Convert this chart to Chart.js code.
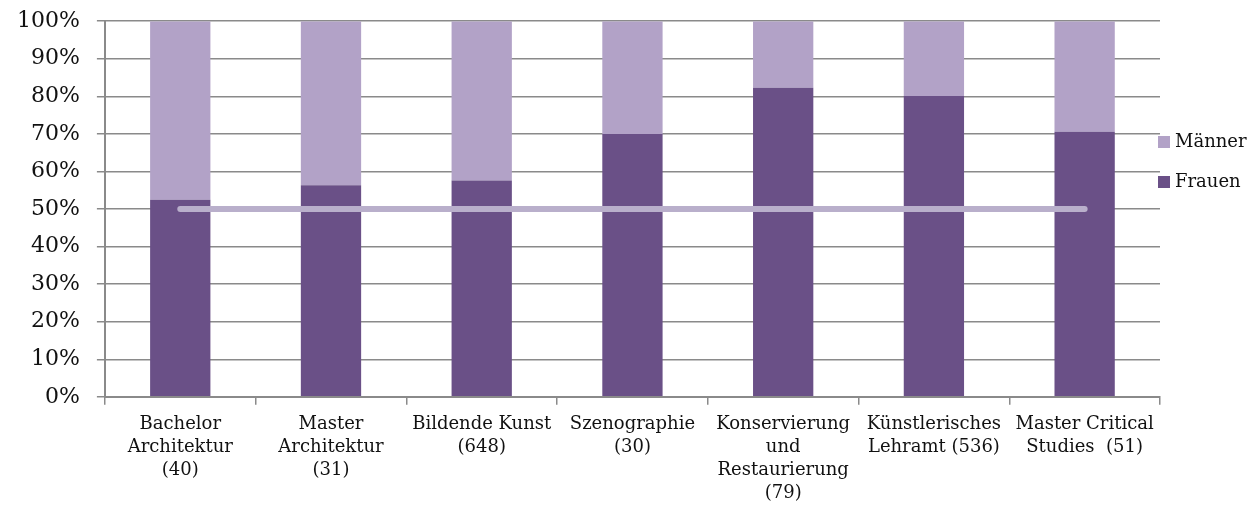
<!DOCTYPE html>
<html lang="de">
<head>
<meta charset="UTF-8">
<title>Frauen / Männer</title>
<script src="https://cdn.jsdelivr.net/npm/chart.js"></script>
<style>
    body { margin: 0; background: #fff; overflow: hidden; }
    .box { position: relative; width: 1260px; height: 513px; overflow: hidden; }
    .zeichnung { position: absolute; left: 0; top: -9px; width: 1260px; height: 522px; }
    .legende { position: absolute; left: 1158px; top: 130px; font-family: 'DejaVu Serif'; font-size: 18px; color: #111; }
    .legende div { height: 40px; display: flex; align-items: flex-start; }
    .legende span.q { display: inline-block; width: 12px; height: 12px; margin: 6px 5px 0 0; }
</style>
</head>
<body>
<div class="box">
    <div class="zeichnung"><canvas id="grafico"></canvas></div>
    <div class="legende" id="legende"></div>
</div>
<script>
    const studiengaenge = [
        ['Bachelor', 'Architektur', '(40)'],
        ['Master', 'Architektur', '(31)'],
        ['Bildende Kunst', '(648)'],
        ['Szenographie', '(30)'],
        ['Konservierung', 'und', 'Restaurierung', '(79)'],
        ['Künstlerisches', 'Lehramt (536)'],
        ['Master Critical', 'Studies  (51)']
    ];
    const frauen = [52.5, 56.3, 57.6, 70.0, 82.3, 80.1, 70.6];
    const maenner = [47.5, 43.7, 42.4, 30.0, 17.7, 19.9, 29.4];
    const linie50 = [50, 50, 50, 50, 50, 50, 50];

    const grau = '#8a8a8a';
    const farbeFrauen = '#6a5087';
    const farbeMaenner = '#b2a2c7';

    // Legende (Männer oben, Frauen unten)
    document.getElementById('legende').innerHTML =
        [['Männer', farbeMaenner], ['Frauen', farbeFrauen]]
            .map(([t, f]) => `<div><span class="q" style="background:${f}"></span>${t}</div>`)
            .join('');

    new Chart(document.getElementById('grafico'), {
        type: 'bar',
        data: {
            labels: studiengaenge,
            datasets: [
                {
                    type: 'line',
                    label: '50%',
                    data: linie50,
                    borderColor: '#b9afcb',
                    borderWidth: 6,
                    borderCapStyle: 'round',
                    pointRadius: 0,
                    stack: 'linie',
                    order: 0
                },
                {
                    label: 'Frauen',
                    data: frauen,
                    backgroundColor: farbeFrauen,
                    stack: 's',
                    order: 1
                },
                {
                    label: 'Männer',
                    data: maenner,
                    backgroundColor: farbeMaenner,
                    stack: 's',
                    order: 1
                }
            ]
        },
        options: {
            responsive: true,
            maintainAspectRatio: false,
            animation: false,
            layout: { padding: { top: 0, left: 0, right: 100, bottom: 0 } },
            datasets: {
                bar: { barPercentage: 1, categoryPercentage: 0.4 }
            },
            scales: {
                x: {
                    stacked: true,
                    grid: {
                        drawOnChartArea: false,
                        color: grau,
                        lineWidth: 1.5,
                        tickLength: 8
                    },
                    border: { color: grau, width: 2 },
                    ticks: {
                        maxRotation: 0,
                        autoSkip: false,
                        padding: 8,
                        color: '#111',
                        font: { family: 'DejaVu Serif', size: 18, lineHeight: 1.28 }
                    }
                },
                y: {
                    stacked: true,
                    min: 0,
                    max: 100,
                    grid: {
                        color: grau,
                        lineWidth: 1.5,
                        tickLength: 8
                    },
                    border: { color: grau, width: 2 },
                    ticks: {
                        stepSize: 10,
                        padding: 17,
                        color: '#111',
                        font: { family: 'DejaVu Serif', size: 22 },
                        callback: v => v + '%'
                    }
                }
            },
            plugins: {
                tooltip: { enabled: false },
                legend: { display: false }
            }
        }
    });
</script>
</body>
</html>
